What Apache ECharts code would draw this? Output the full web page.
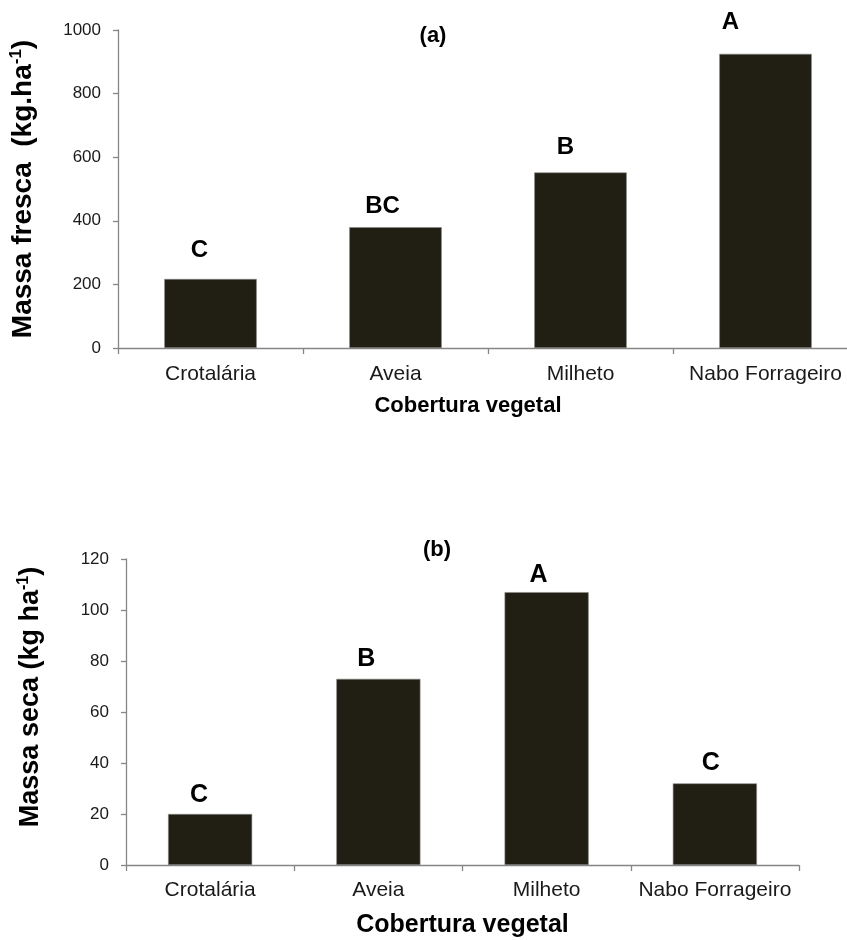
<!DOCTYPE html>
<html>
<head>
<meta charset="utf-8">
<script src="https://cdn.jsdelivr.net/npm/echarts@6/dist/echarts.min.js"></script>
<style>
html,body{margin:0;padding:0;background:#fff;}
#chart{width:847px;height:940px;}
</style>
</head>
<body>
<div id="chart"></div>
<script>
// ---- data ----
const categories = ['Crotalária', 'Aveia', 'Milheto', 'Nabo Forrageiro'];
const massaFresca = [217, 380, 552, 925];
const lettersFresca = ['C', 'BC', 'B', 'A'];
const massaSeca = [20, 73, 107, 32];
const lettersSeca = ['C', 'B', 'A', 'C'];
const ticksFresca = [0, 200, 400, 600, 800, 1000];
const ticksSeca = [0, 20, 40, 60, 80, 100, 120];

// ---- annotation nudges (layout only) ----
const shiftFresca = [[-11, -17], [-13, -9], [-15, -13], [-35, -19]];
const shiftSeca = [[-11, -6], [-12, -7], [-8, -5], [-4, -8]];

const FONT = '"Liberation Sans", Arial, sans-serif';
const AXIS_COLOR = '#868686';
const BAR_COLOR = '#211e14';

function yAxisCfg(gridIndex, ticks, name, rich, nameGap, namePad) {
  return {
    type: 'value', gridIndex: gridIndex,
    min: ticks[0], max: ticks[ticks.length - 1], interval: ticks[1] - ticks[0],
    axisLine: { show: true, lineStyle: { color: AXIS_COLOR, width: 1.3 } },
    axisTick: { show: true, inside: false, length: 5, lineStyle: { color: AXIS_COLOR, width: 1.3 } },
    splitLine: { show: false },
    axisLabel: { color: '#1a1a1a', fontFamily: FONT, fontSize: 17, margin: 17,
                 formatter: v => String(v) },
    name: name, nameLocation: 'middle', nameRotate: 90, nameGap: nameGap,
    nameTextStyle: { rich: rich, padding: namePad }
  };
}
function xAxisCfg(gridIndex, margin, nameGap, nameSize, namePad) {
  return {
    type: 'category', gridIndex: gridIndex, data: categories,
    axisLine: { show: true, lineStyle: { color: AXIS_COLOR, width: 1.3 } },
    axisTick: { show: true, alignWithLabel: false, length: 6, lineStyle: { color: AXIS_COLOR, width: 1.3 } },
    axisLabel: { color: '#1a1a1a', fontFamily: FONT, fontSize: 21, margin: margin, interval: 0 },
    name: 'Cobertura vegetal', nameLocation: 'middle', nameGap: nameGap,
    nameTextStyle: { color: '#000', fontFamily: FONT, fontSize: nameSize, fontWeight: 'bold', padding: namePad }
  };
}
function richY(size) {
  return {
    a: { color: '#000', fontFamily: FONT, fontSize: size, fontWeight: 'bold', lineHeight: size + 2 },
    s: { color: '#000', fontFamily: FONT, fontSize: Math.round(size * 0.6), fontWeight: 'bold', verticalAlign: 'top', lineHeight: size + 2 }
  };
}
function barData(values, letters, shifts, fontSize) {
  return values.map((v, i) => ({
    value: v,
    label: {
      show: true, position: 'top', distance: 0,
      formatter: letters[i], offset: shifts[i],
      color: '#000', fontFamily: FONT, fontWeight: 'bold', fontSize: fontSize
    }
  }));
}

const chart = echarts.init(document.getElementById('chart'), null, { renderer: 'canvas' });
chart.setOption({
  backgroundColor: '#fff',
  animation: false,
  title: [
    { text: '(a)', left: 428, top: 20, textAlign: 'center',
      textStyle: { fontFamily: FONT, fontSize: 22, fontWeight: 'bold', color: '#000' } },
    { text: '(b)', left: 432, top: 534, textAlign: 'center',
      textStyle: { fontFamily: FONT, fontSize: 22, fontWeight: 'bold', color: '#000' } }
  ],
  grid: [
    { left: 118, top: 30, width: 740, height: 318, containLabel: false, outerBoundsMode: 'none' },
    { left: 126, top: 559, width: 673, height: 306, containLabel: false, outerBoundsMode: 'none' }
  ],
  xAxis: [
    xAxisCfg(0, 16, 47, 22, [0, 40, 0, 0]),
    xAxisCfg(1, 15, 48, 25, [0, 0, 0, 0])
  ],
  yAxis: [
    yAxisCfg(0, ticksFresca, '{a|Massa fresca  (kg.ha}{s|-1}{a|)}', richY(28), 80, [0, 0, 0, 0]),
    yAxisCfg(1, ticksSeca, '{a|Massa seca (kg ha}{s|-1}{a|)}', richY(27), 81, [0, 0, 0, 30])
  ],
  series: [
    { type: 'bar', xAxisIndex: 0, yAxisIndex: 0, barWidth: '50%',
      itemStyle: { color: BAR_COLOR, borderColor: '#8a8a84', borderWidth: 0.6 },
      data: barData(massaFresca, lettersFresca, shiftFresca, 24) },
    { type: 'bar', xAxisIndex: 1, yAxisIndex: 1, barWidth: '50%',
      itemStyle: { color: BAR_COLOR, borderColor: '#8a8a84', borderWidth: 0.6 },
      data: barData(massaSeca, lettersSeca, shiftSeca, 25) }
  ]
});
</script>
</body>
</html>
